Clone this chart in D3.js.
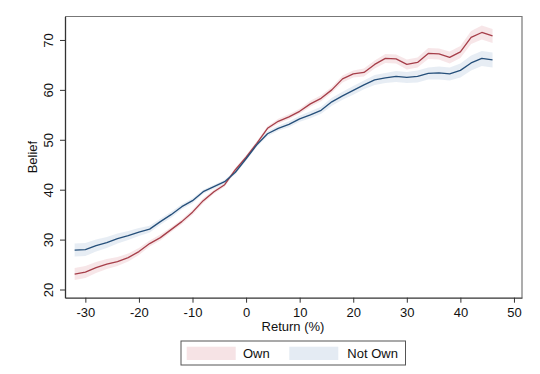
<!DOCTYPE html>
<html>
<head>
<meta charset="utf-8">
<script src="https://cdn.jsdelivr.net/npm/d3@7"></script>
<style>
  body { margin: 0; background: #fff; }
  svg { display: block; font-family: "Liberation Sans", Arial, Helvetica, sans-serif; }
</style>
</head>
<body>
<div id="chart"></div>
<script>
// Return grid (%) and smoothed belief by ownership
const returns = [-32, -30, -28, -26, -24, -22, -20, -18, -16, -14, -12, -10, -8, -6, -4, -2, 0,
  2, 4, 6, 8, 10, 12, 14, 16, 18, 20, 22, 24, 26, 28, 30, 32, 34, 36, 38, 40, 42, 44, 46];

const own = [23.1, 23.5, 24.4, 25.1, 25.6, 26.4, 27.6, 29.2, 30.4, 32.0, 33.6, 35.5, 37.8, 39.6,
  41.0, 44.0, 46.5, 49.3, 52.3, 53.7, 54.6, 55.7, 57.2, 58.3, 60.0, 62.2, 63.2, 63.5, 65.1,
  66.3, 66.2, 65.1, 65.5, 67.3, 67.2, 66.5, 67.6, 70.5, 71.5, 70.8];

const notOwn = [27.9, 28.0, 28.8, 29.4, 30.2, 30.8, 31.5, 32.1, 33.6, 35.0, 36.6, 37.8, 39.6,
  40.6, 41.6, 43.5, 46.2, 49.0, 51.2, 52.3, 53.1, 54.2, 55.0, 55.9, 57.6, 58.8, 59.9, 61.0,
  62.0, 62.4, 62.7, 62.5, 62.7, 63.3, 63.4, 63.2, 63.9, 65.4, 66.3, 66.0];

// half-width of the confidence bands
const ownCI = [1.2, 1.2, 1.1, 1.0, 0.9, 0.8, 0.7, 0.6, 0.6, 0.5, 0.5, 0.5, 0.5, 0.4, 0.4, 0.4, 0.4,
  0.4, 0.4, 0.5, 0.5, 0.5, 0.6, 0.6, 0.6, 0.7, 0.7, 0.8, 0.8, 0.9, 0.9, 1.0, 1.0, 1.1, 1.1,
  1.2, 1.2, 1.3, 1.4, 1.4];

const notOwnCI = [1.3, 1.3, 1.2, 1.1, 1.0, 0.9, 0.8, 0.7, 0.6, 0.6, 0.5, 0.5, 0.4, 0.4, 0.4, 0.4,
  0.4, 0.4, 0.5, 0.5, 0.6, 0.6, 0.7, 0.7, 0.8, 0.8, 0.9, 0.9, 1.0, 1.0, 1.1, 1.1, 1.2, 1.2,
  1.3, 1.3, 1.4, 1.5, 1.5, 1.5];

const xTicks = [-30, -20, -10, 0, 10, 20, 30, 40, 50];
const yTicks = [20, 30, 40, 50, 60, 70];

const series = [
  { name: "Own", values: own, ci: ownCI, line: "#a63e49", band: "#f6e3e5" },
  { name: "Not Own", values: notOwn, ci: notOwnCI, line: "#254f7a", band: "#e4ebf3" }
];

const width = 540, height = 374;
const plot = { left: 65, right: 522, top: 16.5, bottom: 297.7 };

const svg = d3.select("#chart")
  .append("svg")
  .attr("width", width)
  .attr("height", height);

const x = d3.scaleLinear().domain([-33.8, 51.5]).range([plot.left, plot.right]);
const y = d3.scaleLinear().domain([18.36, 74.7]).range([plot.bottom, plot.top]);

// bands
series.forEach(s => {
  const area = d3.area()
    .x((d, i) => x(returns[i]))
    .y0((d, i) => y(d - s.ci[i]))
    .y1((d, i) => y(d + s.ci[i]));
  svg.append("path")
    .datum(s.values)
    .attr("d", area)
    .attr("fill", s.band)
    .attr("fill-opacity", 0.9);
});

// lines
series.forEach(s => {
  const line = d3.line()
    .x((d, i) => x(returns[i]))
    .y(d => y(d));
  svg.append("path")
    .datum(s.values)
    .attr("d", line)
    .attr("fill", "none")
    .attr("stroke", s.line)
    .attr("stroke-width", 1.3)
    .attr("stroke-linejoin", "round");
});

// frame (top/right lighter)
svg.append("path")
  .attr("d", `M${plot.left},${plot.top}H${plot.right}V${plot.bottom}`)
  .attr("fill", "none")
  .attr("stroke", "#777")
  .attr("stroke-width", 1.2);

// axes
const fmt = d => String(d);
const xAxis = svg.append("g")
  .attr("transform", `translate(0,${plot.bottom})`)
  .call(d3.axisBottom(x).tickValues(xTicks).tickFormat(fmt).tickSize(5).tickPadding(3).tickSizeOuter(0));
const yAxis = svg.append("g")
  .attr("transform", `translate(${plot.left},0)`)
  .call(d3.axisLeft(y).tickValues(yTicks).tickFormat(fmt).tickSize(5).tickPadding(3).tickSizeOuter(0));

[xAxis, yAxis].forEach(g => {
  g.select(".domain").attr("stroke", "#333").attr("stroke-width", 1.3);
  g.selectAll(".tick line").attr("stroke", "#333").attr("stroke-width", 1);
  g.selectAll(".tick text").attr("fill", "#111").attr("font-size", 13)
    .attr("font-family", "'Liberation Sans', Arial, sans-serif");
});
xAxis.selectAll(".tick text").attr("dy", "0.85em");

// rotated y labels
yAxis.selectAll(".tick text")
  .attr("text-anchor", "middle")
  .attr("x", null)
  .attr("dy", null)
  .attr("transform", "translate(-12,0) rotate(-90)");

svg.append("text")
  .attr("transform", `translate(37,${(plot.top + plot.bottom) / 2}) rotate(-90)`)
  .attr("text-anchor", "middle")
  .attr("font-size", 13)
  .attr("fill", "#111")
  .text("Belief");

svg.append("text")
  .attr("x", 293)
  .attr("y", 331)
  .attr("text-anchor", "middle")
  .attr("font-size", 13)
  .attr("fill", "#111")
  .text("Return (%)");

// legend
const legend = svg.append("g");
legend.append("rect")
  .attr("x", 181).attr("y", 341)
  .attr("width", 224.5).attr("height", 24)
  .attr("fill", "#fff")
  .attr("stroke", "#555")
  .attr("stroke-width", 1);

const legendX = [186.7, 289.3];
const labelX = [243, 347.3];
series.forEach((s, i) => {
  legend.append("rect")
    .attr("x", legendX[i]).attr("y", 346.7)
    .attr("width", 49).attr("height", 13.3)
    .attr("fill", s.band);
  legend.append("text")
    .attr("x", labelX[i]).attr("y", 358)
    .attr("font-size", 13)
    .attr("fill", "#111")
    .text(s.name);
});
</script>
</body>
</html>
